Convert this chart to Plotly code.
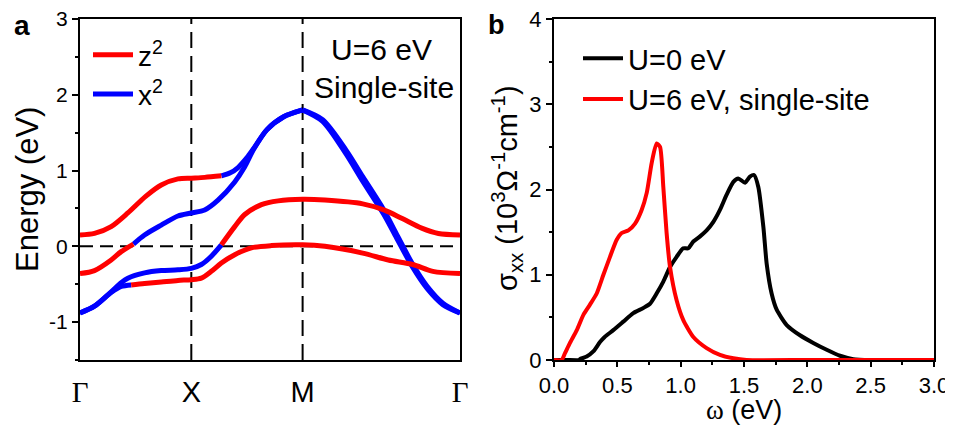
import plotly.graph_objects as go

# ---------------- data: band structure (panel a) ----------------
K_G, K_X, K_M, K_G2 = 0.0, 1.0, 2.0, 3.414
kpt_vals = [K_G, K_X, K_M, K_G2]
kpt_labels = ["Γ", "X", "M", "Γ"]

b1_red_k = [0.0, 0.13, 0.28, 0.43, 0.59, 0.73, 0.88, 1.0, 1.12, 1.27]
b1_red_E = [0.15, 0.17, 0.26, 0.44, 0.66, 0.81, 0.89, 0.90, 0.91, 0.93]
b1_blue_k = [1.27, 1.35, 1.42, 1.50, 1.56, 1.68, 1.83, 2.0]
b1_blue_E = [0.93, 0.97, 1.04, 1.17, 1.29, 1.54, 1.71, 1.80]

b2_red_k = [0.0, 0.13, 0.28, 0.37, 0.48]
b2_red_E = [-0.36, -0.32, -0.18, -0.07, 0.03]
b2_blue_k = [0.48, 0.58, 0.73, 0.88, 1.0, 1.12, 1.24, 1.39, 1.48, 1.56, 1.68, 1.83, 2.0]
b2_blue_E = [0.03, 0.15, 0.28, 0.40, 0.44, 0.48, 0.61, 0.85, 1.05, 1.28, 1.54, 1.71, 1.80]

b3_blue_k = [0.0, 0.13, 0.28, 0.37, 0.43, 0.58, 0.73, 0.88, 1.0, 1.09, 1.18, 1.27]
b3_blue_E = [-0.88, -0.79, -0.60, -0.48, -0.42, -0.35, -0.32, -0.31, -0.29, -0.24, -0.13, 0.02]
b3_red_k = [1.27, 1.39, 1.48, 1.63, 1.78, 2.0, 2.20, 2.54, 2.73, 2.89, 3.07, 3.22, 3.414]
b3_red_E = [0.02, 0.26, 0.42, 0.55, 0.60, 0.62, 0.61, 0.56, 0.48, 0.37, 0.24, 0.17, 0.15]

b4_blue_k = [0.0, 0.13, 0.28, 0.37, 0.46]
b4_blue_E = [-0.88, -0.79, -0.61, -0.53, -0.51]
b4_red_k = [0.46, 0.58, 0.73, 0.88, 1.0, 1.09, 1.18, 1.27, 1.39, 1.54, 1.72, 2.0,
            2.20, 2.54, 2.77, 2.99, 3.17, 3.414]
b4_red_E = [-0.51, -0.49, -0.47, -0.45, -0.44, -0.42, -0.33, -0.22, -0.11, -0.02, 0.01, 0.02,
            0.0, -0.09, -0.18, -0.24, -0.33, -0.36]

mg_blue1_k = [2.0, 2.18, 2.39, 2.54, 2.73, 2.83, 2.99, 3.12, 3.26, 3.414]
mg_blue1_E = [1.80, 1.67, 1.27, 0.92, 0.48, 0.20, -0.24, -0.53, -0.75, -0.88]
mg_blue2_k = [2.0, 2.18, 2.39, 2.54, 2.73, 2.83, 2.99, 3.12, 3.26, 3.414]
mg_blue2_E = [1.80, 1.65, 1.22, 0.86, 0.42, 0.15, -0.28, -0.56, -0.77, -0.88]

# ---------------- data: optical conductivity (panel b) ----------------
w_u0 = [0.0, 0.1, 0.2, 0.205, 0.258, 0.31, 0.363, 0.40, 0.468, 0.547, 0.626, 0.705, 0.758,
        0.81, 0.863, 0.916, 0.968, 1.02, 1.06, 1.10, 1.153, 1.205, 1.258, 1.31, 1.363,
        1.416, 1.455, 1.508, 1.547, 1.579, 1.613, 1.653, 1.679, 1.718, 1.758, 1.837,
        1.942, 2.047, 2.153, 2.258, 2.363, 2.5, 2.75, 3.0]
s_u0 = [0.0, 0.0, 0.0, 0.01, 0.04, 0.10, 0.21, 0.27, 0.35, 0.45, 0.55, 0.61, 0.66,
        0.78, 0.92, 1.09, 1.21, 1.31, 1.31, 1.39, 1.45, 1.52, 1.62, 1.76, 1.94,
        2.09, 2.13, 2.08, 2.15, 2.17, 2.03, 1.56, 1.13, 0.78, 0.59, 0.41,
        0.29, 0.20, 0.12, 0.05, 0.01, 0.0, 0.0, 0.0]

w_u6 = [0.0, 0.06, 0.087, 0.126, 0.18, 0.232, 0.284, 0.337, 0.39, 0.442, 0.495, 0.534,
        0.587, 0.64, 0.692, 0.732, 0.771, 0.81, 0.837, 0.863, 0.889, 0.916, 0.968, 1.02,
        1.10, 1.205, 1.31, 1.416, 1.52, 2.0, 2.5, 3.0]
s_u6 = [0.0, 0.0, 0.08, 0.20, 0.35, 0.53, 0.65, 0.78, 1.00, 1.21, 1.41, 1.49,
        1.52, 1.60, 1.76, 1.96, 2.31, 2.54, 2.50, 2.03, 1.49, 1.09, 0.70, 0.47,
        0.27, 0.14, 0.06, 0.02, 0.0, 0.0, 0.0, 0.0]

RED = "#ff0000"
BLUE = "#0000ff"
FONT = "Liberation Sans, Arial, sans-serif"
SERIF = "Liberation Serif, Times New Roman, serif"

# page body has an 8px margin: size the figure so the page does not scroll
OFF = 8
W, H = 953 - OFF, 435 - 2 * OFF


def px(x):
    return (x - OFF) / W


def py(y):
    return 1 - (y - OFF) / H


fig = go.Figure()

for kv in [K_X, K_M]:
    fig.add_trace(go.Scatter(x=[kv, kv], y=[-1.5, 3.0], mode="lines",
                             line=dict(color="black", width=2, dash="16px,8px"),
                             showlegend=False, hoverinfo="skip", xaxis="x", yaxis="y"))
fig.add_trace(go.Scatter(x=[K_G, K_G2], y=[0, 0], mode="lines",
                         line=dict(color="black", width=2, dash="13px,7px"),
                         showlegend=False, hoverinfo="skip", xaxis="x", yaxis="y"))

blue_segs = [(b1_blue_k, b1_blue_E), (b2_blue_k, b2_blue_E), (b3_blue_k, b3_blue_E),
             (b4_blue_k, b4_blue_E), (mg_blue1_k, mg_blue1_E), (mg_blue2_k, mg_blue2_E)]
red_segs = [(b1_red_k, b1_red_E), (b2_red_k, b2_red_E), (b3_red_k, b3_red_E),
            (b4_red_k, b4_red_E)]

for i, (k, e) in enumerate(blue_segs):
    fig.add_trace(go.Scatter(x=k, y=e, mode="lines",
                             line=dict(color=BLUE, width=5, shape="spline", smoothing=0.8),
                             name="x<sup>2</sup>", legend="legend", legendrank=2,
                             showlegend=(i == 0), xaxis="x", yaxis="y"))
for i, (k, e) in enumerate(red_segs):
    fig.add_trace(go.Scatter(x=k, y=e, mode="lines",
                             line=dict(color=RED, width=5, shape="spline", smoothing=0.8),
                             name="z<sup>2</sup>", legend="legend", legendrank=1,
                             showlegend=(i == 0), xaxis="x", yaxis="y"))

fig.add_trace(go.Scatter(x=w_u0, y=s_u0, mode="lines",
                         line=dict(color="black", width=4, shape="spline", smoothing=0.6),
                         name="U=0 eV", legend="legend2", xaxis="x2", yaxis="y2"))
fig.add_trace(go.Scatter(x=w_u6, y=s_u6, mode="lines",
                         line=dict(color=RED, width=4, shape="spline", smoothing=0.6),
                         name="U=6 eV, single-site", legend="legend2", xaxis="x2", yaxis="y2"))

axis_common = dict(showline=True, linecolor="black", linewidth=2, mirror=True,
                   showgrid=False, zeroline=False, color="black", automargin=False,
                   ticklabeloverflow="allow")

fig.update_layout(
    width=W, height=H,
    margin=dict(l=0, r=0, t=0, b=0, autoexpand=False),
    paper_bgcolor="white", plot_bgcolor="white",
    font=dict(family=FONT, color="black", size=20),
    xaxis=dict(domain=[px(80), px(460)], range=[K_G, K_G2], tickvals=kpt_vals,
               ticktext=[f"<span style='font-family:{SERIF}'>{t}</span>" if t == "Γ" else t
                         for t in kpt_labels],
               ticks="", tickfont=dict(size=29), ticklabelstandoff=5, **axis_common),
    yaxis=dict(domain=[py(360), py(19)], range=[-1.5, 3.0],
               tickvals=[-1, 0, 1, 2, 3], ticktext=["-1", "0", "1", "2", "3"],
               ticks="outside", ticklen=6, tickwidth=2, tickfont=dict(size=21),
               minor=dict(dtick=0.5, tick0=0, ticks="outside", ticklen=3, tickwidth=2),
               **axis_common),
    xaxis2=dict(domain=[px(554), px(934)], range=[0, 3.0], dtick=0.5, tick0=0,
                tickformat=".1f", ticks="outside", ticklen=5, tickwidth=2,
                tickfont=dict(size=22),
                minor=dict(dtick=0.25, tick0=0, ticks="outside", ticklen=3, tickwidth=2),
                anchor="y2", **axis_common),
    yaxis2=dict(domain=[py(360), py(19)], range=[0, 4], dtick=1, tick0=0,
                ticks="outside", ticklen=6, tickwidth=2, tickfont=dict(size=22),
                minor=dict(dtick=0.5, tick0=0, ticks="outside", ticklen=3, tickwidth=2),
                anchor="x2", **axis_common),
    legend=dict(x=px(88), y=py(30), xanchor="left", yanchor="top",
                bgcolor="rgba(0,0,0,0)", font=dict(size=28), itemwidth=40,
                tracegroupgap=0, traceorder="normal"),
    legend2=dict(x=px(578), y=py(33), xanchor="left", yanchor="top",
                 bgcolor="rgba(0,0,0,0)", font=dict(size=29), itemwidth=40,
                 tracegroupgap=0),
    showlegend=True,
)

annotations = [
    dict(text="<b>a</b>", x=px(12), y=py(8), xanchor="left", yanchor="top",
         font=dict(size=28)),
    dict(text="<b>b</b>", x=px(486), y=py(8), xanchor="left", yanchor="top",
         font=dict(size=27)),
    dict(text="U=6 eV", x=px(381), y=py(49), xanchor="center", yanchor="middle",
         font=dict(size=30)),
    dict(text="Single-site", x=px(384), y=py(88), xanchor="center", yanchor="middle",
         font=dict(size=30)),
    dict(text="Energy (eV)", x=px(27), y=py(190), xanchor="center", yanchor="middle",
         textangle=-90, font=dict(size=31)),
    dict(text="σ<sub>xx</sub> (10<sup>3</sup>Ω<sup>-1</sup>cm<sup>-1</sup>)",
         x=px(507), y=py(188), xanchor="center", yanchor="middle",
         textangle=-90, font=dict(size=29)),
    dict(text=f"<span style='font-family:{SERIF}'>ω</span> (eV)", x=px(744),
         y=py(410), xanchor="center", yanchor="middle", font=dict(size=27)),
]
for a in annotations:
    a.update(xref="paper", yref="paper", showarrow=False)
fig.update_layout(annotations=annotations)

fig.write_html("out.html")
